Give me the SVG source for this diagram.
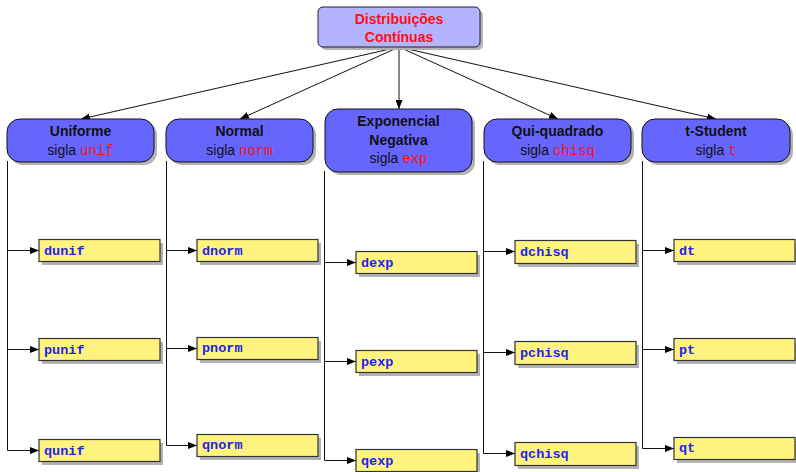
<svg xmlns="http://www.w3.org/2000/svg" width="796" height="472" viewBox="0 0 796 472">
<defs>
<marker id="ah" markerWidth="9" markerHeight="7" refX="9" refY="3.5" orient="auto" markerUnits="userSpaceOnUse"><path d="M0,0 L9,3.5 L0,7 Z" fill="#000"/></marker>
<style>
.root{fill:#b3b3ff;stroke:#222;stroke-width:1}
.cat{fill:#6666ff;stroke:#111;stroke-width:1}
.leaf{fill:#fff380;stroke:#333;stroke-width:1.2}
.sh{fill:#b3b3b3}
.rt{font-family:"Liberation Sans",Arial,sans-serif;font-weight:bold;font-size:14px;fill:#ff1010;text-anchor:middle}
.ct{font-family:"Liberation Sans",Arial,sans-serif;font-weight:bold;font-size:14px;fill:#111;text-anchor:middle}
.sg{font-family:"Liberation Sans",Arial,sans-serif;font-size:14px;fill:#111;text-anchor:middle}
.ab{font-family:"Liberation Mono","Courier New",monospace;font-size:14px;fill:#ff1010}
.lt{font-family:"Liberation Mono","Courier New",monospace;font-weight:bold;font-size:13.5px;fill:#2323ee}
.e{fill:none;stroke:#111;stroke-width:1;marker-end:url(#ah)}
</style>
</defs>
<g id="connectors">
<path class="e" d="M399,47 L81,119"/>
<path class="e" d="M399,47 L240,119"/>
<path class="e" d="M399,47 L399,109"/>
<path class="e" d="M399,47 L558,119"/>
<path class="e" d="M399,47 L716,119"/>
<path class="e" d="M7.5,161 V450.5 H39"/>
<path class="e" d="M7.5,250.5 H39"/>
<path class="e" d="M7.5,349.5 H39"/>
<path class="e" d="M166.5,161 V445.5 H197"/>
<path class="e" d="M166.5,250.5 H197"/>
<path class="e" d="M166.5,348.5 H197"/>
<path class="e" d="M324.5,171 V460.5 H356"/>
<path class="e" d="M324.5,262.5 H356"/>
<path class="e" d="M324.5,361.5 H356"/>
<path class="e" d="M483.5,161 V453.5 H515"/>
<path class="e" d="M483.5,251.5 H515"/>
<path class="e" d="M483.5,352.5 H515"/>
<path class="e" d="M642.5,161 V448.5 H674"/>
<path class="e" d="M642.5,250.5 H674"/>
<path class="e" d="M642.5,349.5 H674"/>
</g>
<g id="root">
<rect class="sh" x="321" y="10" width="162" height="40" rx="5"/>
<rect class="root" x="318" y="7" width="162" height="40" rx="5"/>
<text class="rt" x="399" y="24">Distribuições</text>
<text class="rt" x="399" y="42">Contínuas</text>
</g>
<g id="uniforme">
<rect class="sh" x="10" y="122" width="147" height="43" rx="13"/>
<rect class="cat" x="7" y="119" width="147" height="43" rx="13"/>
<text class="ct" x="80.5" y="136">Uniforme</text>
<text class="sg" x="80.5" y="155">sigla <tspan class="ab">unif</tspan></text>
</g>
<g id="normal">
<rect class="sh" x="169" y="122" width="147" height="43" rx="13"/>
<rect class="cat" x="166" y="119" width="147" height="43" rx="13"/>
<text class="ct" x="239.5" y="136">Normal</text>
<text class="sg" x="239.5" y="155">sigla <tspan class="ab">norm</tspan></text>
</g>
<g id="exponencial">
<rect class="sh" x="328" y="112" width="147" height="63" rx="13"/>
<rect class="cat" x="325" y="109" width="147" height="63" rx="13"/>
<text class="ct" x="398.5" y="126">Exponencial</text>
<text class="ct" x="398.5" y="145">Negativa</text>
<text class="sg" x="398.5" y="163">sigla <tspan class="ab">exp</tspan></text>
</g>
<g id="quiquadrado">
<rect class="sh" x="487" y="122" width="147" height="43" rx="13"/>
<rect class="cat" x="484" y="119" width="147" height="43" rx="13"/>
<text class="ct" x="557.5" y="136">Qui-quadrado</text>
<text class="sg" x="557.5" y="155">sigla <tspan class="ab">chisq</tspan></text>
</g>
<g id="tstudent">
<rect class="sh" x="645" y="122" width="148" height="43" rx="13"/>
<rect class="cat" x="642" y="119" width="148" height="43" rx="13"/>
<text class="ct" x="716" y="136">t-Student</text>
<text class="sg" x="716" y="155">sigla <tspan class="ab">t</tspan></text>
</g>
<g id="dunif"><rect class="sh" x="42" y="243" width="121" height="22"/><rect class="leaf" x="39" y="239.5" width="121" height="22"/><text class="lt" x="44" y="255">dunif</text></g>
<g id="punif"><rect class="sh" x="42" y="342" width="121" height="22"/><rect class="leaf" x="39" y="338.5" width="121" height="22"/><text class="lt" x="44" y="354">punif</text></g>
<g id="qunif"><rect class="sh" x="42" y="443" width="121" height="22"/><rect class="leaf" x="39" y="439.5" width="121" height="22"/><text class="lt" x="44" y="455">qunif</text></g>
<g id="dnorm"><rect class="sh" x="200" y="243" width="121" height="22"/><rect class="leaf" x="197" y="239.5" width="121" height="22"/><text class="lt" x="202" y="255">dnorm</text></g>
<g id="pnorm"><rect class="sh" x="200" y="341" width="121" height="22"/><rect class="leaf" x="197" y="337.5" width="121" height="22"/><text class="lt" x="202" y="352">pnorm</text></g>
<g id="qnorm"><rect class="sh" x="200" y="438" width="121" height="22"/><rect class="leaf" x="197" y="434.5" width="121" height="22"/><text class="lt" x="202" y="449">qnorm</text></g>
<g id="dexp"><rect class="sh" x="359" y="255" width="121" height="22"/><rect class="leaf" x="356" y="251.5" width="121" height="22"/><text class="lt" x="361" y="267">dexp</text></g>
<g id="pexp"><rect class="sh" x="359" y="354" width="121" height="22"/><rect class="leaf" x="356" y="350.5" width="121" height="22"/><text class="lt" x="361" y="366">pexp</text></g>
<g id="qexp"><rect class="sh" x="359" y="453" width="121" height="22"/><rect class="leaf" x="356" y="449.5" width="121" height="22"/><text class="lt" x="361" y="465">qexp</text></g>
<g id="dchisq"><rect class="sh" x="518" y="244" width="121" height="23"/><rect class="leaf" x="515" y="240.5" width="121" height="23"/><text class="lt" x="520" y="256">dchisq</text></g>
<g id="pchisq"><rect class="sh" x="518" y="345" width="121" height="23"/><rect class="leaf" x="515" y="341.5" width="121" height="23"/><text class="lt" x="520" y="357">pchisq</text></g>
<g id="qchisq"><rect class="sh" x="518" y="446" width="121" height="23"/><rect class="leaf" x="515" y="442.5" width="121" height="23"/><text class="lt" x="520" y="458">qchisq</text></g>
<g id="dt"><rect class="sh" x="677" y="243" width="121" height="22"/><rect class="leaf" x="674" y="239.5" width="121" height="22"/><text class="lt" x="679" y="255">dt</text></g>
<g id="pt"><rect class="sh" x="677" y="342" width="121" height="22"/><rect class="leaf" x="674" y="338.5" width="121" height="22"/><text class="lt" x="679" y="354">pt</text></g>
<g id="qt"><rect class="sh" x="677" y="441" width="121" height="22"/><rect class="leaf" x="674" y="437.5" width="121" height="22"/><text class="lt" x="679" y="452">qt</text></g>
</svg>
